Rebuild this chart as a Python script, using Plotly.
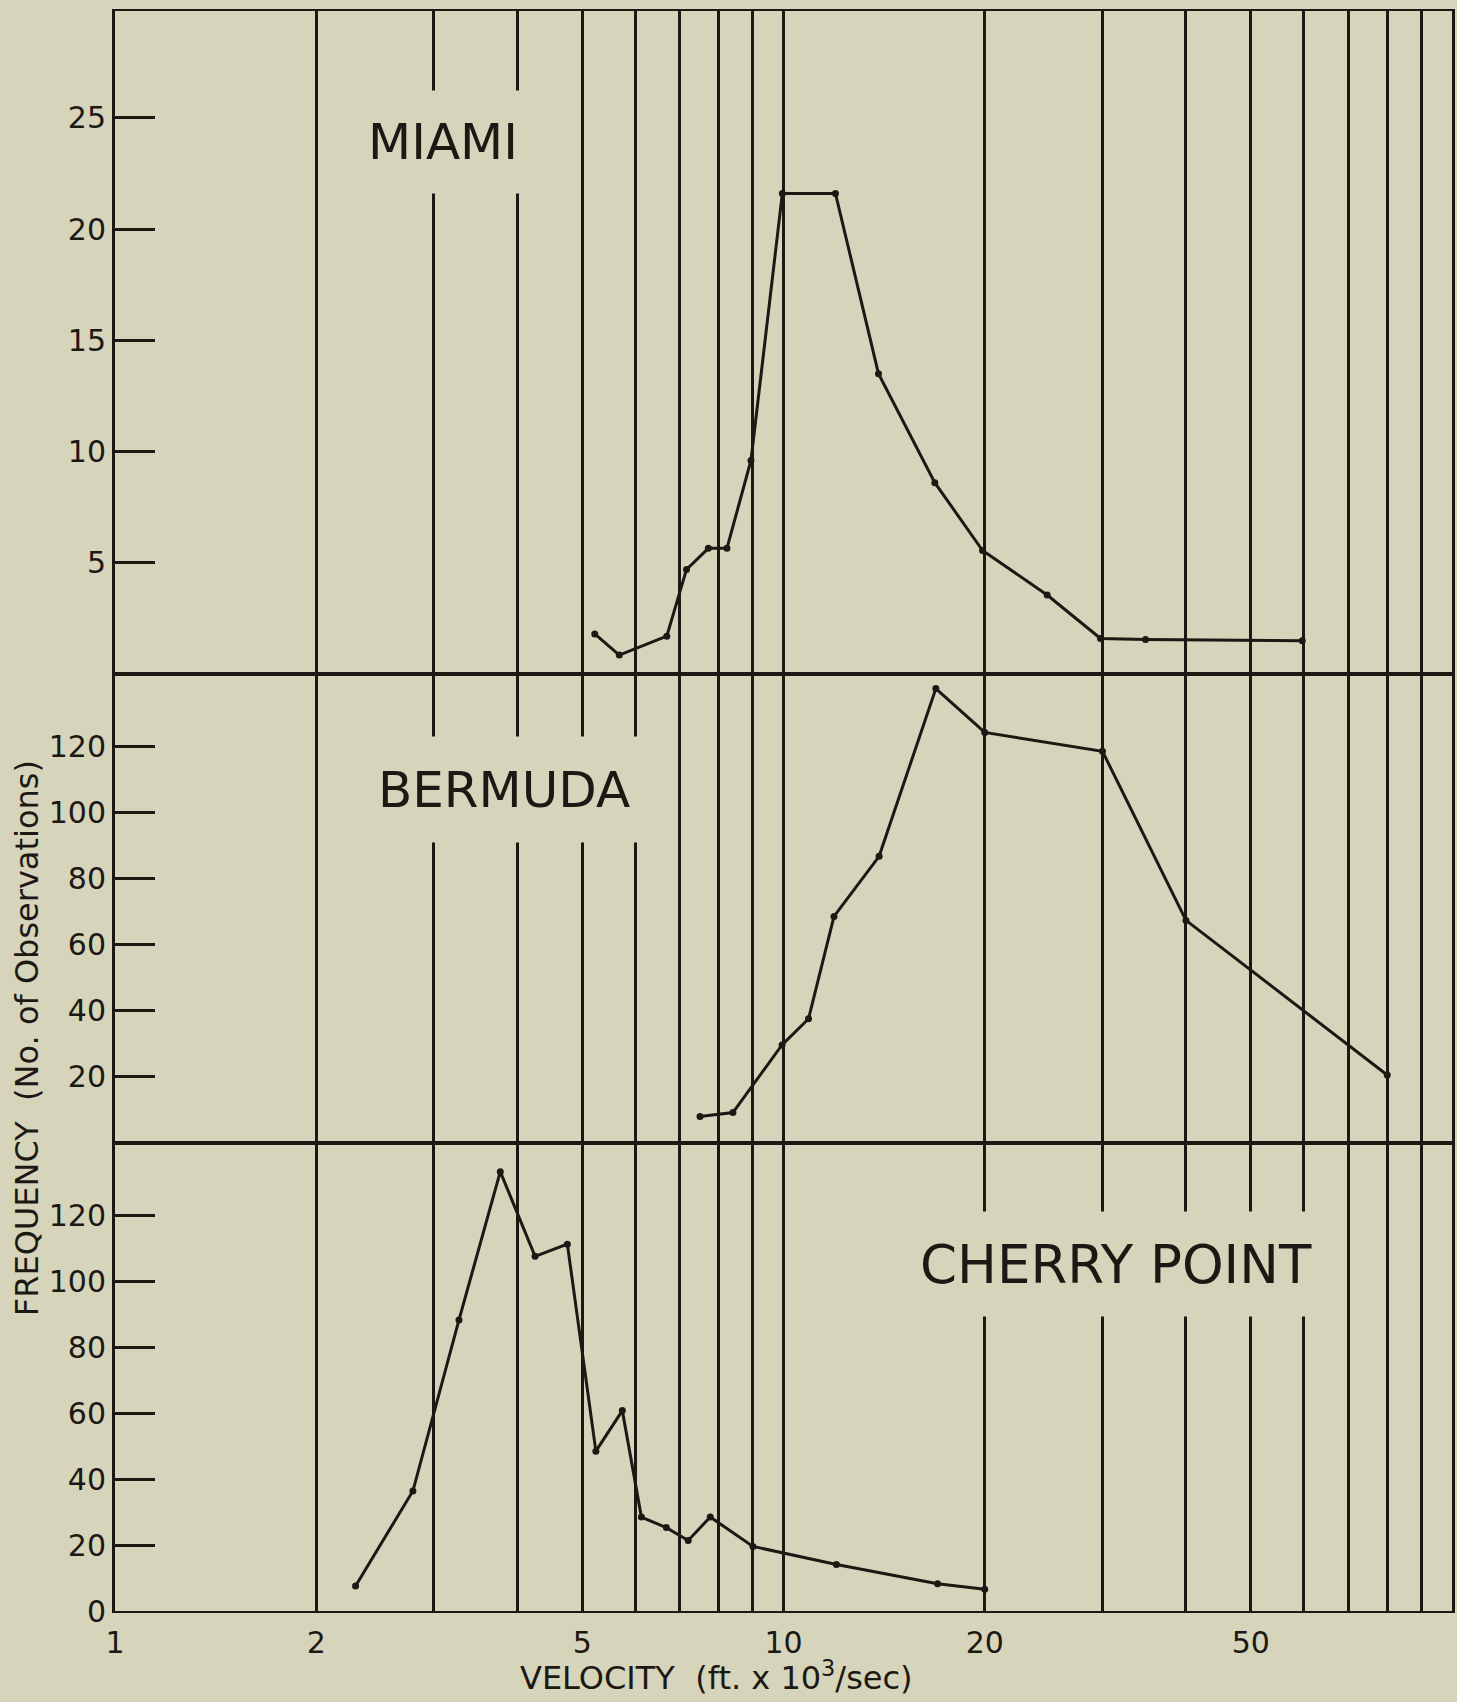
import plotly.graph_objects as go

# ---------------- data ----------------
miami_velocity = [5.22, 5.68, 6.69, 7.16, 7.72, 8.23, 8.94, 9.96, 11.96, 13.87, 16.84, 19.85, 24.8, 29.8, 34.8, 59.7]
miami_freq = [1.8, 0.85, 1.7, 4.7, 5.65, 5.65, 9.6, 21.6, 21.6, 13.5, 8.6, 5.55, 3.55, 1.6, 1.55, 1.5]

bermuda_velocity = [7.5, 8.4, 9.95, 10.9, 11.9, 13.9, 16.9, 20.0, 30.0, 40.0, 80.0]
bermuda_freq = [8.0, 9.2, 29.7, 37.6, 68.6, 86.8, 137.6, 124.3, 118.6, 67.4, 20.6]

cherry_velocity = [2.29, 2.79, 3.27, 3.77, 4.25, 4.75, 5.24, 5.74, 6.13, 6.68, 7.2, 7.77, 9.0, 12.0, 17.0, 20.0]
cherry_freq = [7.6, 36.4, 88.3, 133.3, 107.6, 111.3, 48.5, 60.8, 28.5, 25.3, 21.4, 28.5, 19.6, 14.1, 8.3, 6.6]

x_grid = [1, 2, 3, 4, 5, 6, 7, 8, 9, 10, 20, 30, 40, 50, 60, 70, 80, 90, 100]
x_labels = ["1", "2", "", "", "5", "", "", "", "", "10", "20", "", "", "50", "", "", "", "", ""]
miami_ticks = [5, 10, 15, 20, 25]
bermuda_ticks = [20, 40, 60, 80, 100, 120]
cherry_ticks = [0, 20, 40, 60, 80, 100, 120]

station_names = ["MIAMI", "BERMUDA", "CHERRY POINT"]
x_title = "VELOCITY  (ft. x 10<sup>3</sup>/sec)"
y_title = "FREQUENCY  (No. of Observations)"

# ---------------- style ----------------
BG = "#d6d4ba"
INK = "#1c1914"
FONT = "DejaVu Sans"
W, H = 1457, 1702
ML, MR, MT, MB = 115, 2, 11, 91
PW, PH = W - ML - MR, H - MT - MB


def px(xp):
    return (xp - ML) / PW


def py(yp):
    return (H - MB - yp) / PH


fig = go.Figure()
series = [
    (miami_velocity, miami_freq, "x", "y"),
    (bermuda_velocity, bermuda_freq, "x2", "y2"),
    (cherry_velocity, cherry_freq, "x3", "y3"),
]
for xs, ys, xa, ya in series:
    fig.add_trace(go.Scatter(
        x=xs, y=ys, xaxis=xa, yaxis=ya, mode="lines+markers",
        line=dict(color=INK, width=3), marker=dict(color=INK, size=7),
        showlegend=False, hoverinfo="skip"))

split1 = py(674)
split2 = py(1143)

xcommon = dict(type="log", range=[0, 2], tickvals=x_grid, ticktext=x_labels,
               showgrid=True, gridcolor=INK, gridwidth=2.5, zeroline=False,
               showline=True, linecolor=INK, linewidth=2, mirror=True, ticks="",
               ticklabelstandoff=4,
               tickfont=dict(family=FONT, size=30, color=INK))
ycommon = dict(showgrid=False, zeroline=False, showline=True, linecolor=INK,
               linewidth=3, mirror=True, ticks="inside", ticklen=40, tickwidth=2.5,
               tickcolor=INK, tickfont=dict(family=FONT, size=30, color=INK))

fig.update_layout(
    width=W, height=H,
    margin=dict(l=ML, r=MR, t=MT, b=MB),
    paper_bgcolor=BG, plot_bgcolor=BG,
    xaxis=dict(xcommon, domain=[0, 1], anchor="y", showticklabels=False),
    xaxis2=dict(xcommon, domain=[0, 1], anchor="y2", showticklabels=False),
    xaxis3=dict(xcommon, domain=[0, 1], anchor="y3", showticklabels=True),
    yaxis=dict(ycommon, domain=[split1, 1], anchor="x", range=[0, 29.8], tickvals=miami_ticks),
    yaxis2=dict(ycommon, domain=[split2, split1], anchor="x2", range=[0, 142], tickvals=bermuda_ticks),
    yaxis3=dict(ycommon, domain=[0, split2], anchor="x3", range=[0, 142], tickvals=cherry_ticks),
)

# station labels with paper-coloured boxes that interrupt the grid
label_boxes = [
    (444, 142, 246, 100, 50),
    (505, 790, 340, 103, 50),
    (1118, 1264, 430, 102, 53),
]
for name, (cx, cy, bw, bh, fs) in zip(station_names, label_boxes):
    fig.add_annotation(x=px(cx), y=py(cy), xref="paper", yref="paper", text=name,
                       showarrow=False, width=bw, height=bh, bgcolor=BG,
                       font=dict(family=FONT, size=fs, color=INK),
                       xanchor="center", yanchor="middle")

# edges of the pasted label strips visible in the scan
for ex, ey0, ey1 in [(567, 93, 187), (675, 738, 841)]:
    fig.add_shape(type="line", xref="paper", yref="paper", x0=px(ex), x1=px(ex),
                  y0=py(ey0), y1=py(ey1), line=dict(color=INK, width=2))

fig.add_annotation(x=px(718), y=py(1676), xref="paper", yref="paper", text=x_title,
                   showarrow=False, font=dict(family=FONT, size=32, color=INK),
                   xanchor="center", yanchor="middle")
fig.add_annotation(x=px(27), y=py(1038), xref="paper", yref="paper", text=y_title,
                   showarrow=False, textangle=-90, font=dict(family=FONT, size=32, color=INK),
                   xanchor="center", yanchor="middle")

fig.write_html("out.html", config={"displayModeBar": False},
               post_script="document.body.style.margin='0';document.body.style.overflow='hidden';")
